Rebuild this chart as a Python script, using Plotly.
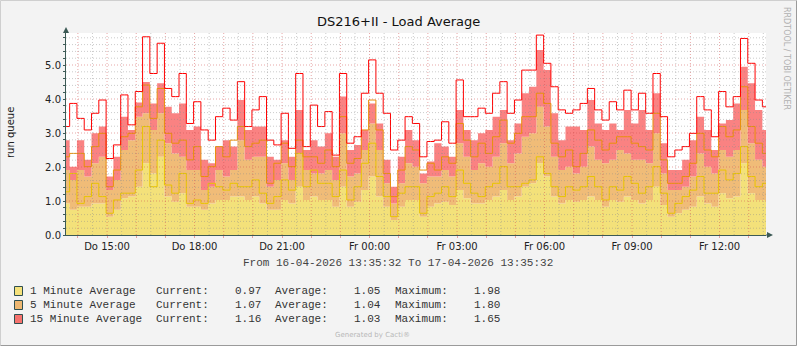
import pandas as pd
import plotly.graph_objects as go

START = "2026-04-16 13:35:32"
END = "2026-04-17 13:35:32"

# stacked area tops (AVERAGE) and line levels (MAX), 15-minute steps
one_min_fill = [0.93,0.74,0.83,0.83,0.93,0.93,0.54,0.74,1.08,1.13,
                1.42,2.11,1.81,2.30,1.13,0.98,1.23,0.83,0.83,0.74,
                0.93,1.03,1.03,1.13,1.13,1.03,1.13,0.93,0.74,0.74,
                1.03,0.93,1.42,1.03,1.13,1.03,1.03,0.83,1.42,0.83,
                0.98,1.32,1.72,1.13,0.83,0.44,0.83,1.03,1.03,0.54,
                0.83,0.93,0.98,0.88,1.32,1.08,0.93,0.93,1.03,1.13,
                1.32,1.03,1.13,1.42,1.52,2.11,1.72,1.13,0.93,1.03,
                0.98,1.03,1.13,1.03,0.83,1.03,0.98,1.13,1.03,0.93,
                1.03,1.42,0.88,0.54,0.64,0.74,0.83,1.13,0.93,0.83,
                1.23,1.08,1.13,2.11,1.23,1.03,1.03]
five_min_fill = [1.91,1.62,1.91,1.72,2.11,2.30,1.32,1.62,2.50,2.79,
                 3.48,3.58,3.09,3.58,2.70,2.40,2.30,1.91,1.91,1.32,
                 1.42,1.91,1.72,1.91,2.79,2.21,2.30,2.30,1.42,1.62,
                 2.11,1.62,2.40,1.91,1.81,1.81,1.91,1.62,2.99,1.72,
                 1.81,2.50,3.28,2.50,1.52,0.93,1.52,2.11,2.01,1.52,
                 1.72,1.72,1.91,1.72,2.70,2.30,1.91,2.11,2.01,2.30,
                 2.70,2.11,2.40,2.89,2.99,3.77,3.19,2.30,1.91,2.01,
                 1.81,2.01,2.60,2.21,2.11,2.21,2.50,2.40,2.21,2.21,
                 2.11,2.99,1.81,1.32,1.32,1.42,1.72,2.40,2.01,1.81,
                 2.50,2.30,2.50,3.68,2.70,2.21,2.01]
fifteen_min_fill = [2.79,2.01,2.79,2.21,2.99,3.19,1.72,2.30,3.48,3.09,
                    3.90,4.50,3.87,4.46,3.77,3.58,3.87,3.09,3.19,2.21,
                    2.11,2.60,2.79,2.60,3.97,3.09,3.19,3.19,2.30,2.21,
                    2.79,2.30,3.68,2.50,2.79,2.60,2.99,2.30,4.07,2.50,
                    2.65,3.09,3.87,3.28,2.21,1.42,2.30,3.09,2.79,1.81,
                    2.16,2.70,2.60,2.30,3.68,3.09,2.79,2.99,3.09,3.48,
                    3.68,2.79,3.28,4.17,4.36,5.44,4.85,3.58,2.79,3.19,
                    3.19,3.09,3.97,3.28,3.09,3.28,3.09,3.68,3.28,3.68,
                    3.09,4.17,2.70,1.91,1.91,2.21,2.79,3.48,3.09,2.50,
                    3.28,3.38,3.87,4.95,4.46,3.68,3.09]
one_min_line = [1.27,1.81,0.93,1.13,1.52,1.13,0.64,1.03,1.23,1.23,
                1.91,3.19,1.42,2.79,1.47,1.23,1.81,0.93,1.03,0.93,
                1.52,1.42,1.32,1.52,1.42,1.42,1.62,1.23,0.93,1.13,
                1.62,1.32,2.40,1.42,1.91,1.52,1.52,1.13,1.91,1.03,
                1.42,2.11,2.70,1.72,1.13,0.54,1.23,1.42,1.42,0.64,
                1.13,1.23,1.42,1.13,1.91,1.52,1.23,1.13,1.42,1.52,
                2.01,1.42,1.42,1.52,1.62,2.30,1.81,1.42,1.13,1.42,
                1.32,1.42,1.72,1.42,1.03,1.42,1.32,1.72,1.52,1.23,
                1.42,2.01,1.23,0.64,0.93,1.13,1.32,1.72,1.23,1.23,
                1.91,1.62,1.81,2.60,1.72,1.42,1.52]
five_min_line = [2.30,2.40,2.40,2.01,2.60,2.99,1.42,1.91,2.89,2.99,
                 3.77,4.41,3.43,4.31,2.99,2.70,2.79,2.21,2.60,1.72,
                 2.01,2.60,2.30,2.79,3.19,2.60,2.70,2.79,1.52,2.11,
                 2.70,2.01,2.79,2.30,2.30,2.11,2.50,2.01,3.48,2.11,
                 2.25,3.09,3.97,3.09,1.81,1.13,1.91,2.60,2.50,1.91,
                 2.11,1.91,2.30,2.11,3.28,2.79,2.30,2.70,2.40,2.89,
                 3.38,2.70,2.99,3.48,3.48,4.17,3.87,2.70,2.30,2.50,
                 2.01,2.40,3.09,2.79,2.50,2.70,2.89,2.89,2.70,2.60,
                 2.50,3.58,2.21,1.52,1.52,1.72,2.11,2.99,2.50,2.30,
                 3.19,2.89,3.09,4.36,3.19,2.70,2.40]
fifteen_min_line = [3.19,3.87,3.43,3.09,3.58,3.97,2.25,2.65,4.12,3.24,
                    4.22,5.83,4.75,5.64,4.31,4.07,4.75,3.28,3.92,3.09,
                    2.79,3.48,3.73,3.38,4.51,3.19,3.68,4.07,2.79,2.65,
                    3.58,2.55,4.75,2.60,3.82,3.19,3.63,2.35,4.75,2.70,
                    2.89,4.17,5.15,4.17,3.58,2.50,2.79,3.48,3.28,2.30,
                    2.75,2.79,3.33,2.70,4.56,3.48,3.48,3.73,3.58,4.17,
                    4.51,3.58,3.97,4.85,4.85,5.88,5.05,4.36,3.68,3.58,
                    3.68,3.87,4.31,3.68,3.38,3.92,3.68,4.26,3.68,4.17,
                    3.58,4.75,3.48,2.30,2.50,2.60,2.99,4.07,3.68,2.89,
                    4.22,3.77,4.07,5.78,5.05,3.97,3.77]

series_names = ["1 Minute Average", "5 Minute Average", "15 Minute Average"]
current_vals = [0.97, 1.07, 1.16]
average_vals = [1.05, 1.04, 1.03]
maximum_vals = [1.98, 1.80, 1.65]

hour_ticks = pd.date_range("2026-04-16 14:00", "2026-04-17 13:00", freq="1h")
half_hours = pd.date_range("2026-04-16 14:30", "2026-04-17 13:30", freq="1h")
label_hours = {15: "Do 15:00", 18: "Do 18:00", 21: "Do 21:00", 0: "Fr 00:00",
               3: "Fr 03:00", 6: "Fr 06:00", 9: "Fr 09:00", 12: "Fr 12:00"}
tick_text = [label_hours.get(t.hour, "") for t in hour_ticks]
y_major = [1, 2, 3, 4, 5]
y_minor = [round(0.2 * i, 1) for i in range(1, 30) if i % 5 != 0]

times = pd.date_range(START, END, freq="15min")

fill_colors = ["#F3E17A", "#F0BC78", "#FA8282"]
line_colors = ["#E8C400", "#E8900A", "#FF0000"]
box_colors = ["#F5E17B", "#EDB772", "#F6736E"]

fig = go.Figure()
fills = [one_min_fill, five_min_fill, fifteen_min_fill]
for k, vals in enumerate(fills):
    fig.add_trace(go.Scatter(x=times, y=vals, mode="lines", line=dict(width=0, shape="hvh"),
                             fill="tozeroy" if k == 0 else "tonexty",
                             fillcolor=fill_colors[k], hoverinfo="skip", showlegend=False))
for k, vals in enumerate([one_min_line, five_min_line, fifteen_min_line]):
    fig.add_trace(go.Scatter(x=times, y=vals, mode="lines",
                             line=dict(width=1, color=line_colors[k], shape="hvh"),
                             hoverinfo="skip", showlegend=False))

L, R, T, B = 66, 766, 33, 235
W, H = 797, 346
Y_TOP = (B - T) / 34.0


def px(x):
    return (x - L) / (R - L)


def py(y):
    return (B - y) / (B - T)


grid_major = "rgba(210,80,80,0.5)"
grid_minor = "rgba(140,140,140,0.45)"
axis_col = "#3C5A55"
DOT = "1px,2px"

fig.update_layout(
    width=W, height=H, autosize=False,
    margin=dict(l=L, r=W - R, t=T, b=H - B, pad=0),
    paper_bgcolor="#F3F3F3", plot_bgcolor="#FFFFFF",
    font=dict(family="DejaVu Sans", size=10, color="#222222"),
    showlegend=False,
    xaxis=dict(type="date", range=[START, END], tickvals=hour_ticks, ticktext=tick_text,
               showgrid=False, ticks="outside", ticklen=2, tickcolor=grid_major,
               showline=True, linecolor=axis_col, linewidth=1, zeroline=False,
               layer="above traces",
               tickfont=dict(family="DejaVu Sans", size=10, color="#222222")),
    yaxis=dict(range=[0, Y_TOP], dtick=1, tick0=0, tickformat=".1f",
               showgrid=False, ticks="outside", ticklen=2, tickcolor=axis_col,
               showline=True, linecolor=axis_col, linewidth=1, zeroline=False,
               layer="above traces",
               tickfont=dict(family="DejaVu Sans", size=10, color="#222222"),
               minor=dict(dtick=0.2, ticks="outside", ticklen=2, tickcolor=axis_col,
                          showgrid=False)),
)

shapes = []
# grid drawn above the areas, as rrdtool does
for t in half_hours:
    shapes.append(dict(type="line", xref="x", yref="paper", x0=t, x1=t, y0=0, y1=1,
                       layer="above", line=dict(color=grid_minor, width=1, dash=DOT)))
for v in y_minor:
    shapes.append(dict(type="line", xref="paper", yref="y", x0=0, x1=1, y0=v, y1=v,
                       layer="above", line=dict(color=grid_minor, width=1, dash=DOT)))
for t in hour_ticks:
    shapes.append(dict(type="line", xref="x", yref="paper", x0=t, x1=t, y0=0, y1=1,
                       layer="above", line=dict(color=grid_major, width=1, dash=DOT)))
for v in y_major:
    shapes.append(dict(type="line", xref="paper", yref="y", x0=0, x1=1, y0=v, y1=v,
                       layer="above", line=dict(color=grid_major, width=1, dash=DOT)))
# axis arrows
shapes.append(dict(type="path", xref="paper", yref="paper",
                   path=f"M {px(63)} {py(33)} L {px(69)} {py(33)} L {px(66)} {py(27)} Z",
                   fillcolor=axis_col, line=dict(width=0)))
shapes.append(dict(type="path", xref="paper", yref="paper",
                   path=f"M {px(767)} {py(232)} L {px(767)} {py(238)} L {px(773)} {py(235)} Z",
                   fillcolor=axis_col, line=dict(width=0)))
shapes.append(dict(type="line", xref="paper", yref="paper", x0=px(766), x1=px(768),
                   y0=0, y1=0, line=dict(color=axis_col, width=1)))
# outer border
shapes.append(dict(type="line", xref="paper", yref="paper", x0=px(0.5), x1=px(796.5),
                   y0=py(0.5), y1=py(0.5), line=dict(color="#CFCFCF", width=1)))
shapes.append(dict(type="line", xref="paper", yref="paper", x0=px(0.5), x1=px(0.5),
                   y0=py(0.5), y1=py(345.5), line=dict(color="#CFCFCF", width=1)))
shapes.append(dict(type="line", xref="paper", yref="paper", x0=px(0.5), x1=px(796.5),
                   y0=py(345.5), y1=py(345.5), line=dict(color="#9A9A9A", width=1)))
shapes.append(dict(type="line", xref="paper", yref="paper", x0=px(796.5), x1=px(796.5),
                   y0=py(0.5), y1=py(345.5), line=dict(color="#9A9A9A", width=1)))

annotations = []
annotations.append(dict(text="DS216+II - Load Average", xref="paper", yref="paper",
                        x=px(398), y=py(22), xanchor="center", yanchor="middle", showarrow=False,
                        font=dict(family="DejaVu Sans", size=13, color="#111111")))
annotations.append(dict(text="run queue", xref="paper", yref="paper", x=px(10), y=py(133),
                        xanchor="center", yanchor="middle", textangle=-90, showarrow=False,
                        font=dict(family="DejaVu Sans", size=10, color="#222222")))
annotations.append(dict(text="From 16-04-2026 13:35:32 To 17-04-2026 13:35:32", xref="paper",
                        yref="paper", x=px(398), y=py(263), xanchor="center", yanchor="middle",
                        showarrow=False,
                        font=dict(family="Liberation Mono", size=11, color="#444444")))
annotations.append(dict(text="RRDTOOL / TOBI OETIKER", xref="paper", yref="paper", x=px(787),
                        y=py(58), xanchor="center", yanchor="middle", textangle=90,
                        showarrow=False, font=dict(family="DejaVu Sans", size=8, color="#B0B0B0")))
annotations.append(dict(text="Generated by Cacti®", xref="paper", yref="paper", x=px(372),
                        y=py(335), xanchor="center", yanchor="middle", showarrow=False,
                        font=dict(family="DejaVu Sans", size=7, color="#B8B8B8")))

row_y = [291, 305, 319]
mono = dict(family="Liberation Mono", size=11, color="#333333")
for k in range(3):
    yy = py(row_y[k])
    shapes.append(dict(type="rect", xref="paper", yref="paper", x0=px(14.5), x1=px(22.5),
                       y0=py(row_y[k] - 4.5), y1=py(row_y[k] + 4.5),
                       fillcolor=box_colors[k], line=dict(color="#2F4F4F", width=1)))
    cols = [(28, series_names[k]), (154, "Current:"), (233, f"{current_vals[k]:.2f}"),
            (273, "Average:"), (352, f"{average_vals[k]:.2f}"),
            (393, "Maximum:"), (472, f"{maximum_vals[k]:.2f}")]
    for xpix, txt in cols:
        annotations.append(dict(text=txt, xref="paper", yref="paper", x=px(xpix), y=yy,
                                xanchor="left", yanchor="middle", showarrow=False, font=mono))

fig.update_layout(shapes=shapes, annotations=annotations)
fig.write_html("out.html")
